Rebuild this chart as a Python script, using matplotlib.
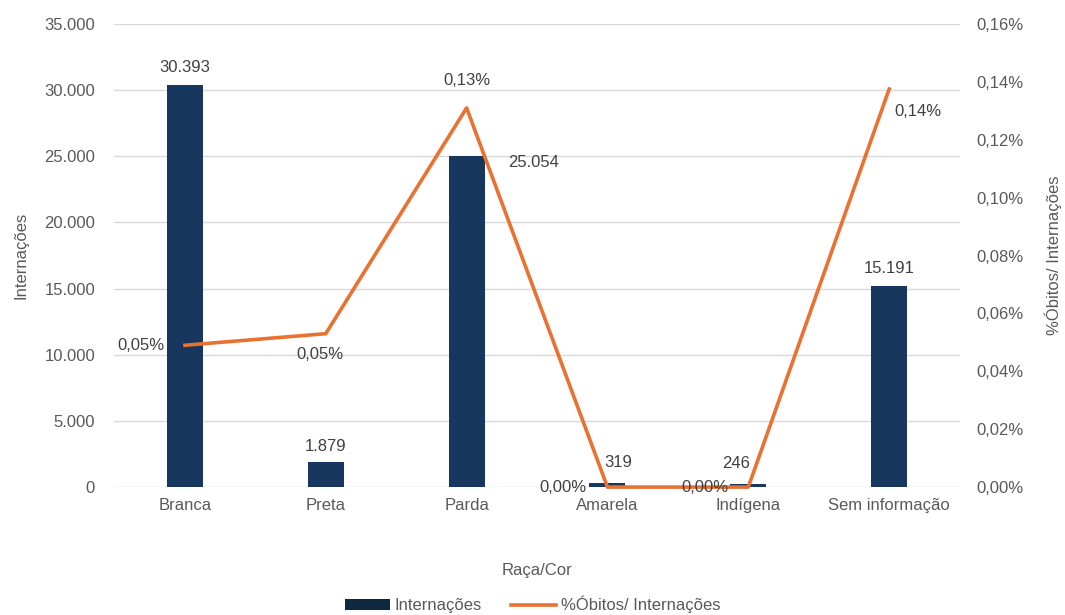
import matplotlib
matplotlib.use("Agg")
import matplotlib.pyplot as plt
from matplotlib.ticker import FuncFormatter, MultipleLocator
from matplotlib.patches import Patch
from matplotlib.lines import Line2D

categories = ["Branca", "Preta", "Parda", "Amarela", "Indígena", "Sem informação"]
internacoes = [30393, 1879, 25054, 319, 246, 15191]
pct_obitos = [0.049, 0.053, 0.131, 0.0, 0.0, 0.1375]  # percent
bar_labels = ["30.393", "1.879", "25.054", "319", "246", "15.191"]
pct_labels = ["0,05%", "0,05%", "0,13%", "0,00%", "0,00%", "0,14%"]

plt.rcParams['font.family'] = ['Liberation Sans', 'DejaVu Sans']
txt = "#595959"
lab_txt = "#404040"
bar_color = "#17375E"
line_color = "#E97132"
fs = 12

fig = plt.figure(figsize=(10.65, 6.15), dpi=100)
ax = fig.add_axes([0.1075, 0.208, 0.7935, 0.753])
ax2 = ax.twinx()

x = list(range(len(categories)))
ax.bar(x, internacoes, width=0.255, color=bar_color, zorder=2)
ax.set_xlim(-0.5, len(categories) - 0.5)
ax.set_ylim(0, 35000)
ax.yaxis.set_major_locator(MultipleLocator(5000))
ax.yaxis.set_major_formatter(FuncFormatter(lambda v, p: "0" if v == 0 else f"{int(v):,}".replace(",", ".")))
ax.grid(axis='y', color="#D9D9D9", linewidth=1, zorder=0)
ax.set_axisbelow(True)

ax2.plot(x, pct_obitos, color=line_color, linewidth=2.6, zorder=3, clip_on=False,
         solid_joinstyle='round')
ax2.set_ylim(0, 0.16)
ax2.yaxis.set_major_locator(MultipleLocator(0.02))
ax2.yaxis.set_major_formatter(FuncFormatter(lambda v, p: f"{v:.2f}%".replace(".", ",")))

for a in (ax, ax2):
    for s in a.spines.values():
        s.set_visible(False)
    a.tick_params(length=0, colors=txt, labelsize=fs)
ax.tick_params(axis='x', pad=8)
ax.tick_params(axis='y', pad=14)
ax2.tick_params(axis='y', pad=12)

ax.set_xticks(x)
ax.set_xticklabels(categories)
ax.set_xlabel("Raça/Cor", color=txt, fontsize=fs, labelpad=36)
ax.set_ylabel("Internações", color=txt, fontsize=fs, labelpad=11)
ax2.set_ylabel("%Óbitos/ Internações", color=txt, fontsize=fs, labelpad=15)

# bar labels (offsets in points)
bar_offsets = [(0, 12.5), (0, 11.5), (48, -5), (8, 14.5), (-9, 14.5), (0, 13)]
for i, (v, lab) in enumerate(zip(internacoes, bar_labels)):
    dx, dy = bar_offsets[i]
    ax.annotate(lab, (i, v), xytext=(dx, dy), textcoords="offset points",
                ha="center", va="center", color=lab_txt, fontsize=fs)

pct_offsets = [(-32, 0), (-4, -15), (0, 19.5), (-32, 0), (-31, 0), (21, -16)]
for i, (v, lab) in enumerate(zip(pct_obitos, pct_labels)):
    dx, dy = pct_offsets[i]
    ax2.annotate(lab, (i, v), xytext=(dx, dy), textcoords="offset points",
                 ha="center", va="center", color=lab_txt, fontsize=fs, zorder=4)

handles = [Patch(facecolor="#0E2841", edgecolor="none"),
           Line2D([0], [0], color=line_color, linewidth=2.6)]
fig.legend(handles, ["Internações", "%Óbitos/ Internações"], loc="center",
           bbox_to_anchor=(0.5, 0.017), ncol=2, frameon=False, fontsize=fs,
           labelcolor=txt, handlelength=2.7, handletextpad=0.3, columnspacing=1.7,
           handleheight=0.6)

fig.savefig("out.png", dpi=100)
